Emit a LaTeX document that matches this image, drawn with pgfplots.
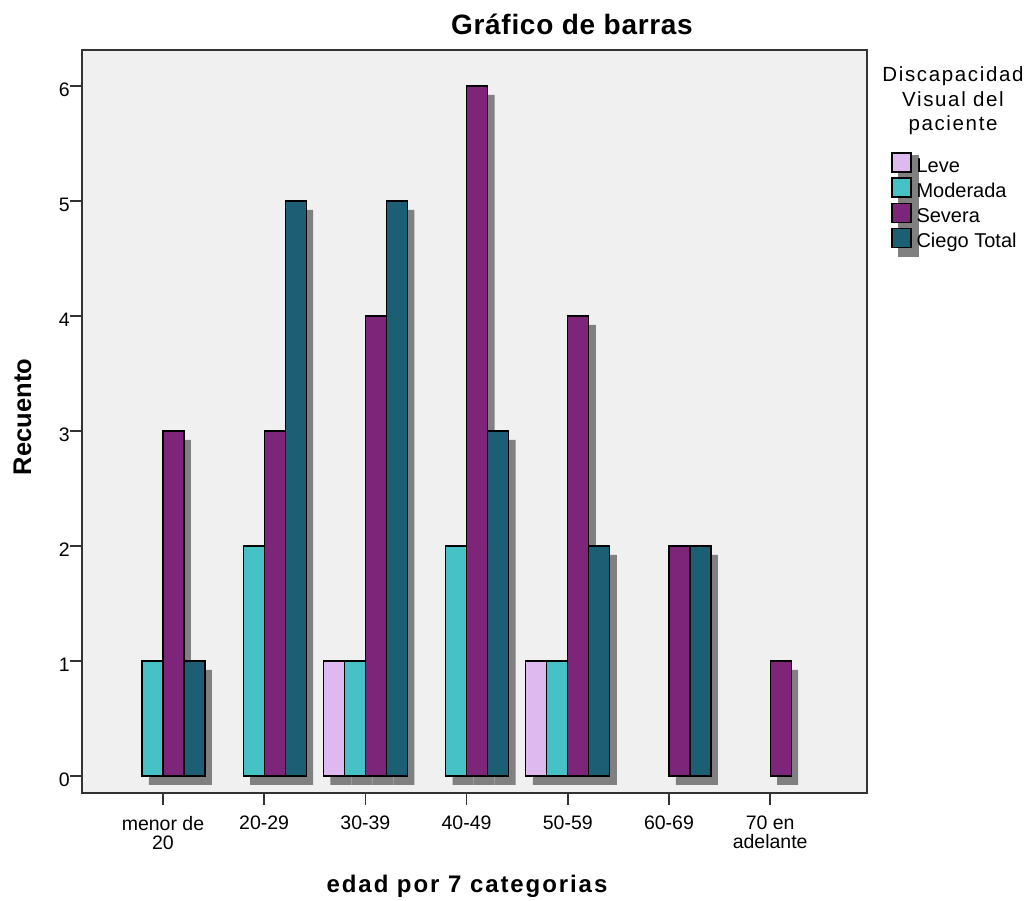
\documentclass[border=0pt]{standalone}
\usepackage{pgfplots}
\pgfplotsset{compat=1.18}
\usepackage{fontspec}
\setmainfont{Liberation Sans}
\newfontfamily\titlefont[LetterSpace=2.5]{Liberation Sans}
\newfontfamily\labfont[LetterSpace=8]{Liberation Sans}
\newfontfamily\legtitlefont[LetterSpace=8]{Liberation Sans}
\definecolor{cLeve}{RGB}{222,185,240}
\definecolor{cMod}{RGB}{70,194,199}
\definecolor{cSev}{RGB}{124,37,121}
\definecolor{cCie}{RGB}{28,95,117}
\definecolor{bgc}{RGB}{240,240,240}
\definecolor{shadowc}{RGB}{128,128,128}
\newcommand\legbox[1]{%
  \fill[shadowc,overlay] (7pt,-13.5pt) rectangle (26pt,11.5pt);
  \draw[fill=#1,draw=black,line width=1.3pt] (0pt,-4.5pt) rectangle (19pt,14.5pt);
}
\pgfplotstableread{
x y
2 1
4 1
}\leve
\pgfplotstableread{
x y
0 1
1 2
2 1
3 2
4 1
}\moderada
\pgfplotstableread{
x y
0 3
1 3
2 4
3 6
4 4
5 2
6 1
}\severa
\pgfplotstableread{
x y
0 1
1 5
2 5
3 3
4 2
5 2
}\ciego
\begin{document}
\begin{tikzpicture}
\begin{axis}[
  at={(82pt,108pt)}, anchor=south west,
  width=785pt, height=743pt, scale only axis,
  xmin=-0.8, xmax=6.957, ymin=-0.148, ymax=6.313,
  axis background/.style={fill=bgc},
  axis line style={line width=1.5pt, color=black!80},
  xtick={0,1,2,3,4,5,6},
  xticklabels={{menor de\\20},20-29,30-39,40-49,50-59,60-69,{70 en\\adelante}},
  ytick={0,1,2,3,4,5,6},
  tick style={line width=1.5pt, color=black!80},
  major tick length=12pt,
  tick align=outside,
  xtick pos=bottom, ytick pos=left,
  /pgf/number format/assume math mode=true,
  x tick label style={font=\fontsize{19.5}{19}\selectfont, align=center, anchor=north, inner sep=0pt, yshift=-11pt},
  y tick label style={font=\fontsize{19.5}{19}\selectfont, anchor=east, inner sep=0pt, yshift=-4pt},
  legend style={at={(axis description cs:1.0306,0.8627)}, anchor=north west,
    draw=none, fill=none, inner sep=0pt, column sep=5pt, row sep=0.5pt,
    font=\fontsize{20}{20}\selectfont,
    nodes={inner sep=0pt, text height=14.5pt, text depth=4.5pt}},
  legend cell align=left,
]
% shadows
\addplot[ybar, bar width=21pt, bar shift=-24.5pt, fill=shadowc, draw=none, yshift=-9pt, forget plot] table[x=x,y=y]{\leve};
\addplot[ybar, bar width=21pt, bar shift=-3.5pt, fill=shadowc, draw=none, yshift=-9pt, forget plot] table[x=x,y=y]{\moderada};
\addplot[ybar, bar width=21pt, bar shift=17.5pt, fill=shadowc, draw=none, yshift=-9pt, forget plot] table[x=x,y=y]{\severa};
\addplot[ybar, bar width=21pt, bar shift=38.5pt, fill=shadowc, draw=none, yshift=-9pt, forget plot] table[x=x,y=y]{\ciego};
% bars
\addplot[ybar, bar width=21pt, bar shift=-31.5pt, fill=cLeve, draw=black, line width=1.3pt,
  legend image code/.code={\legbox{cLeve}}] table[x=x,y=y]{\leve};
\addplot[ybar, bar width=21pt, bar shift=-10.5pt, fill=cMod, draw=black, line width=1.3pt,
  legend image code/.code={\legbox{cMod}}] table[x=x,y=y]{\moderada};
\addplot[ybar, bar width=21pt, bar shift=10.5pt, fill=cSev, draw=black, line width=1.3pt,
  legend image code/.code={\legbox{cSev}}] table[x=x,y=y]{\severa};
\addplot[ybar, bar width=21pt, bar shift=31.5pt, fill=cCie, draw=black, line width=1.3pt,
  legend image code/.code={\legbox{cCie}}] table[x=x,y=y]{\ciego};
\legend{Leve,Moderada,Severa,Ciego Total}
\end{axis}
\node[anchor=base, inner sep=0pt] at (572pt,866pt) {\titlefont\fontsize{28}{28}\selectfont\bfseries Gráfico de barras};
\node[anchor=base, inner sep=0pt] at (467pt,8pt) {\labfont\fontsize{24}{24}\selectfont\bfseries edad por 7 categorias};
\node[anchor=base, inner sep=0pt, rotate=90] at (31pt,484pt) {\fontsize{25.5}{25.5}\selectfont\bfseries Recuento};
\node[anchor=base, inner sep=0pt] at (953pt,819pt) {\legtitlefont\fontsize{20.5}{20.5}\selectfont Discapacidad};
\node[anchor=base, inner sep=0pt] at (953pt,794pt) {\legtitlefont\fontsize{20.5}{20.5}\selectfont Visual del};
\node[anchor=base, inner sep=0pt] at (953pt,770pt) {\legtitlefont\fontsize{20.5}{20.5}\selectfont paciente};
\pgfresetboundingbox
\path[use as bounding box] (0pt,0pt) rectangle (1030pt,901pt);
\end{tikzpicture}
\end{document}
